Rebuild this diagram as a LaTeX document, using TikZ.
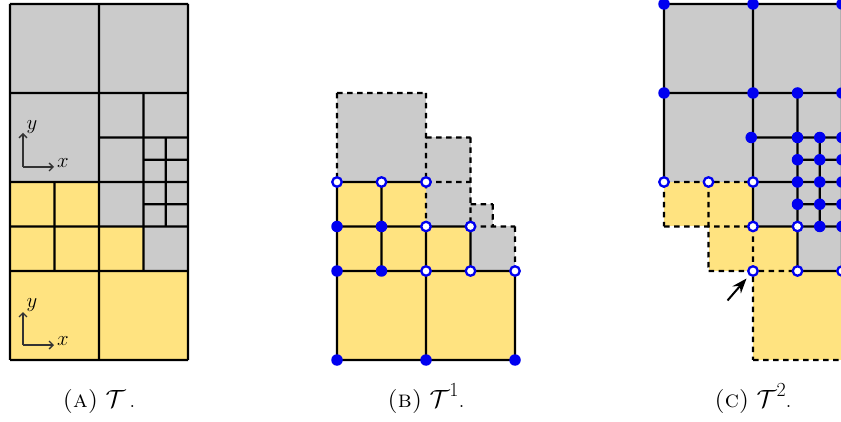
\documentclass[tikz,border=0pt]{standalone}
\usetikzlibrary{arrows.meta}
\definecolor{cellgray}{HTML}{CBCBCB}
\definecolor{cellyellow}{HTML}{FFE380}
\definecolor{dotblue}{HTML}{0000F0}
\newcommand{\capsup}[1]{\raisebox{0.42em}{\fontsize{20}{20}\selectfont #1}}
\newcommand{\seglist}[2]{\foreach \a/\b/\c/\d in {#2}
    \draw[#1] (\a,\b) -- ([shift={(0.03pt,0.03pt)}]\c,\d);}
\tikzset{
  unitgrid/.style={x=44.5pt,y=-44.5pt},
  solidline/.style={black,line width=2.2pt,line cap=square},
  dashline/.style={black,line width=2.1pt,dash pattern=on 5.5pt off 4.5pt},
  graycell/.style={fill=cellgray},
  yellowcell/.style={fill=cellyellow},
  fulldot/.style={circle,fill=dotblue,inner sep=0pt,minimum size=11.5pt},
  opendot/.style={circle,draw=dotblue,fill=white,line width=2.3pt,inner sep=0pt,minimum size=9.5pt},
  axisline/.style={black!80,line width=1.3pt,-{Straight Barb[length=4pt,width=8pt]}},
  axislabel/.style={inner sep=0pt,font=\fontsize{22}{24}\selectfont},
  caption/.style={inner sep=0pt,anchor=base,font=\fontsize{24}{28}\selectfont},
  pointer/.style={black,line width=2pt,-{Stealth[length=15pt,width=11pt]},shorten >=4pt}
}
\begin{document}
\begin{tikzpicture}[x=1pt,y=-1pt]
\useasboundingbox (0,0) rectangle (841,422);
\clip (0,0) rectangle (841,422);
% ---------- Panel A
\begin{scope}[shift={(10,4)},unitgrid]
  \fill[graycell] (0,0) rectangle (4,4);
  \fill[graycell] (2,4) rectangle (4,5);
  \fill[graycell] (3,5) rectangle (4,6);
  \fill[yellowcell] (0,4) rectangle (2,6);
  \fill[yellowcell] (2,5) rectangle (3,6);
  \fill[yellowcell] (0,6) rectangle (4,8);
  \seglist{solidline}{0/0/4/0,0/8/4/8,0/0/0/8,4/0/4/8,2/0/2/8,0/2/4/2,0/4/4/4,0/6/4/6,0/5/3/5,1/4/1/6,3/2/3/6,2/3/4/3,3/3.5/4/3.5,3/4.5/4/4.5,3/5/4/5,3.5/3/3.5/5}
\end{scope}
\draw[axisline] (23,167) -- (54,167);
\draw[axisline] (23,167) -- (23,133);
\node[axislabel] (xa) at (63,163) {$x$};
\node[axislabel] (ya) at (32,127) {$y$};
\draw[axisline] (23,345) -- (54,345);
\draw[axisline] (23,345) -- (23,312);
\node[axislabel] (xb) at (63,341) {$x$};
\node[axislabel] (yb) at (32,305) {$y$};
\node[caption] (capa) at (99,407) {\textsc{(a)} $\mathcal{T}$\,.};
% ---------- Panel B
\begin{scope}[shift={(337,4)},unitgrid]
  \fill[graycell] (0,2) rectangle (2,4);
  \fill[graycell] (2,3) rectangle (3,5);
  \fill[graycell] (3,4.5) rectangle (3.5,5);
  \fill[graycell] (3,5) rectangle (4,6);
  \fill[yellowcell] (0,4) rectangle (2,6);
  \fill[yellowcell] (2,5) rectangle (3,6);
  \fill[yellowcell] (0,6) rectangle (4,8);
  \seglist{dashline}{0/2/0/4,0/2/2/2,2/2/2/5,2/3/3/3,3/3/3/5,2/4/3/4,3/4.5/3.5/4.5,3.5/4.5/3.5/5,3/5/4/5,4/5/4/6}
  \seglist{solidline}{0/4/0/8,0/4/2/4,0/5/3/5,0/6/4/6,0/8/4/8,1/4/1/6,2/5/2/8,3/5/3/6,4/6/4/8}
  \foreach \p/\a/\b in {f1/0/5,f2/1/5,f3/0/6,f4/1/6,f5/0/8,f6/2/8,f7/4/8}
    \node[fulldot] (b\p) at (\a,\b) {};
  \foreach \p/\a/\b in {o1/0/4,o2/1/4,o3/2/4,o4/2/5,o5/3/5,o6/2/6,o7/3/6,o8/4/6}
    \node[opendot] (b\p) at (\a,\b) {};
\end{scope}
\node[caption] (capb) at (426,407) {\textsc{(b)} $\mathcal{T}$\capsup{1}.};
% ---------- Panel C
\begin{scope}[shift={(664,4)},unitgrid]
  \fill[graycell] (0,0) rectangle (4,4);
  \fill[graycell] (2,4) rectangle (4,5);
  \fill[graycell] (3,5) rectangle (4,6);
  \fill[yellowcell] (0,4) rectangle (2,5);
  \fill[yellowcell] (1,5) rectangle (3,6);
  \fill[yellowcell] (2,6) rectangle (4,8);
  \seglist{solidline}{0/0/4/0,0/0/0/4,2/0/2/5,4/0/4/6,0/2/4/2,2/3/4/3,2/4/4/4,2/5/4/5,3/2/3/6,3/3.5/4/3.5,3/4.5/4/4.5,3.5/3/3.5/5,3/6/4/6}
  \seglist{dashline}{0/4/2/4,0/4/0/5,0/5/2/5,1/4/1/6,1/6/3/6,2/5/2/8,2/8/4/8}
  \foreach \p/\a/\b in {f1/0/0,f2/2/0,f3/4/0,f4/0/2,f5/2/2,f6/3/2,f7/4/2,f8/3/3,f9/3.5/3,f10/4/3,f11/3/3.5,f12/3.5/3.5,f13/4/3.5,f14/3/4,f15/3.5/4,f16/4/4,f17/3/4.5,f18/3.5/4.5,f19/4/4.5,f20/3.5/5,f21/4/5,f22/1.96/3}
    \node[fulldot] (c\p) at (\a,\b) {};
  \foreach \p/\a/\b in {o1/0/4,o2/1/4,o3/2/4,o4/2/5,o5/3/5,o6/2/6,o7/3/6,o8/4/6}
    \node[opendot] (c\p) at (\a,\b) {};
\end{scope}
\coordinate (pstart) at (727.5,300.5);
\draw[pointer] (pstart) -- (co6);
\node[caption] (capc) at (753,407) {\textsc{(c)} $\mathcal{T}$\capsup{2}.};
\end{tikzpicture}
\end{document}
